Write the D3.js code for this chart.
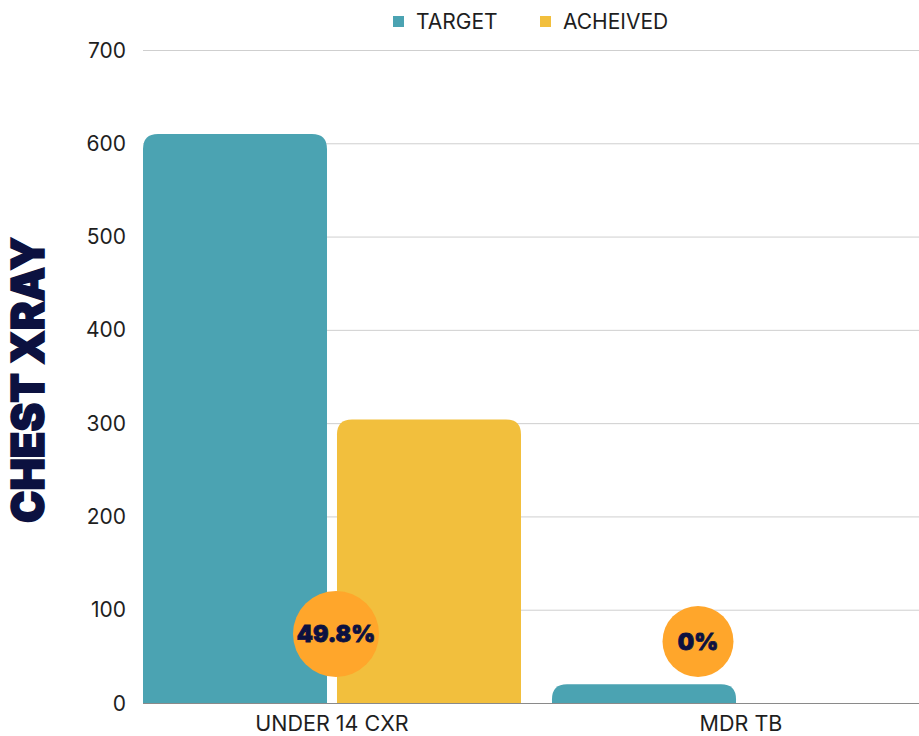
<!DOCTYPE html>
<html>
<head>
<meta charset="utf-8">
<script src="https://cdn.jsdelivr.net/npm/d3@7"></script>
<style>
  body { margin: 0; background: #fff; }
  svg { display: block; }
</style>
</head>
<body>
<div id="chart"></div>
<script>
// data
var categories = ["UNDER 14 CXR", "MDR TB"];
var series = ["TARGET", "ACHEIVED"];
var targetValues = [610, 20];
var achievedValues = [304, 0];
var pctLabels = ["49.8%", "0%"];
var yTicks = [0, 100, 200, 300, 400, 500, 600, 700];

var colors = { "TARGET": "#4BA3B2", "ACHEIVED": "#F2BF3D" };

// badge placement (offset from group start in px, height in value units, radius)
var badgeLayout = [
  { dx: 193, v: 74, r: 43 },
  { dx: 146, v: 66, r: 35.5 }
];

var width = 919, height = 736;
var svg = d3.select("#chart").append("svg")
    .attr("width", width)
    .attr("height", height);

var y = d3.scaleLinear().domain([0, 700]).range([703, 50]);

var x = d3.scaleBand()
    .domain(categories)
    .range([143, 930])
    .paddingInner(0.0758)
    .paddingOuter(0);

var xSub = d3.scaleBand()
    .domain(series)
    .range([0, x.bandwidth()])
    .paddingInner(0.0515);

// gridlines
svg.append("g")
    .selectAll("line")
    .data(yTicks.filter(function (d) { return d > 0; }))
    .enter().append("line")
    .attr("x1", 143).attr("x2", width)
    .attr("y1", function (d) { return y(d) + 0.5; })
    .attr("y2", function (d) { return y(d) + 0.5; })
    .attr("stroke", "#cfcfcf")
    .attr("stroke-width", 1);

// y tick labels
svg.append("g")
    .selectAll("text")
    .data(yTicks)
    .enter().append("text")
    .attr("x", 126)
    .attr("y", function (d) { return y(d); })
    .attr("dy", "0.36em")
    .attr("text-anchor", "end")
    .attr("font-family", "Inter, 'Open Sans', sans-serif")
    .attr("font-size", 21)
    .attr("fill", "#1e1e1e")
    .text(function (d) { return d; });

// rounded-top bar path
function topRounded(x0, y0, w, h, r) {
  r = Math.min(r, h, w / 2);
  if (h <= 0) return "";
  return "M" + x0 + "," + (y0 + h) +
    "V" + (y0 + r) +
    "Q" + x0 + "," + y0 + " " + (x0 + r) + "," + y0 +
    "H" + (x0 + w - r) +
    "Q" + (x0 + w) + "," + y0 + " " + (x0 + w) + "," + (y0 + r) +
    "V" + (y0 + h) + "Z";
}

var rows = categories.map(function (c, i) {
  return { cat: c, values: [
    { key: "TARGET", value: targetValues[i] },
    { key: "ACHEIVED", value: achievedValues[i] }
  ]};
});

var groups = svg.append("g")
    .selectAll("g")
    .data(rows)
    .enter().append("g")
    .attr("transform", function (d) { return "translate(" + x(d.cat) + ",0)"; });

groups.selectAll("path")
    .data(function (d) { return d.values; })
    .enter().append("path")
    .attr("fill", function (d) { return colors[d.key]; })
    .attr("d", function (d) {
      return topRounded(xSub(d.key), y(d.value), xSub.bandwidth(), y(0) - y(d.value), 15);
    });

// baseline
svg.append("line")
    .attr("x1", 143).attr("x2", width)
    .attr("y1", y(0) + 0.5).attr("y2", y(0) + 0.5)
    .attr("stroke", "#8a8a8a")
    .attr("stroke-width", 1);

// x labels
svg.append("g")
    .selectAll("text")
    .data(categories)
    .enter().append("text")
    .attr("x", function (d) { return x(d) + x.bandwidth() / 2; })
    .attr("y", 731)
    .attr("text-anchor", "middle")
    .attr("font-family", "Inter, 'Open Sans', sans-serif")
    .attr("font-size", 21.5)
    .attr("fill", "#1e1e1e")
    .text(function (d) { return d; });

// percentage badges
var badges = svg.append("g")
    .selectAll("g")
    .data(categories)
    .enter().append("g")
    .attr("transform", function (d, i) {
      return "translate(" + (x(d) + badgeLayout[i].dx) + "," + y(badgeLayout[i].v) + ")";
    });
badges.append("circle")
    .attr("r", function (d, i) { return badgeLayout[i].r; })
    .attr("fill", "#FFA62B");
badges.append("text")
    .attr("text-anchor", "middle")
    .attr("dy", "0.36em")
    .attr("font-family", "Inter, 'DejaVu Sans', sans-serif")
    .attr("font-weight", 900)
    .attr("font-size", 23)
    .attr("fill", "#0c1140")
    .attr("stroke", "#0c1140")
    .attr("stroke-width", 0.8)
    .text(function (d, i) { return pctLabels[i]; });

// y axis title
svg.append("text")
    .attr("transform", "translate(44,380) rotate(-90)")
    .attr("text-anchor", "middle")
    .attr("font-family", "Inter, 'DejaVu Sans', sans-serif")
    .attr("font-weight", 900)
    .attr("font-size", 45)
    .attr("textLength", 286)
    .attr("lengthAdjust", "spacingAndGlyphs")
    .attr("fill", "#0c1140")
    .attr("stroke", "#0c1140")
    .attr("stroke-width", 1.5)
    .text("CHEST XRAY");

// legend
var legend = svg.append("g")
    .selectAll("g")
    .data(series)
    .enter().append("g")
    .attr("transform", function (d, i) { return "translate(" + (i === 0 ? 393 : 540) + ",16)"; });
legend.append("rect")
    .attr("width", 11).attr("height", 11)
    .attr("fill", function (d) { return colors[d]; });
legend.append("text")
    .attr("x", 23)
    .attr("y", 13)
    .attr("font-family", "Inter, 'Open Sans', sans-serif")
    .attr("font-size", 21)
    .attr("fill", "#1e1e1e")
    .text(function (d) { return d; });
</script>
</body>
</html>
